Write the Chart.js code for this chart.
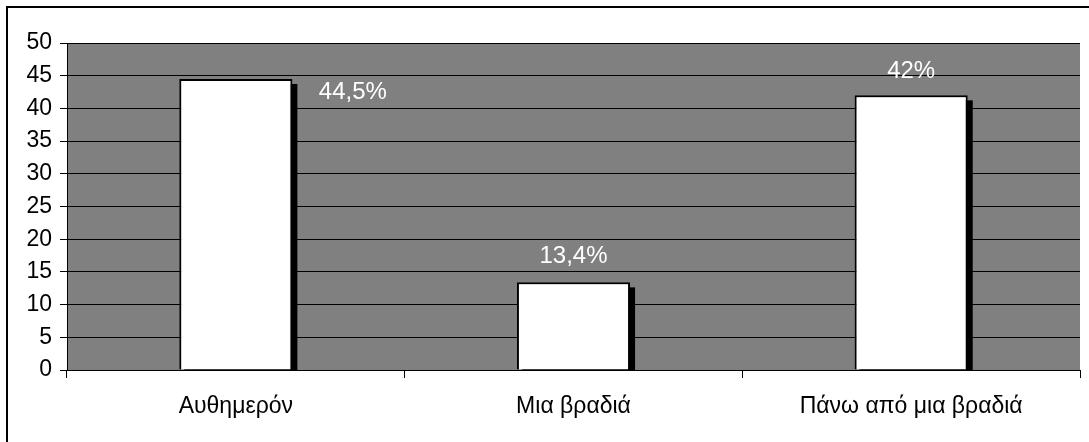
<!DOCTYPE html>
<html lang="el">
<head>
    <meta charset="UTF-8">
    <title>Διαμονή</title>
    <style>
        body {
            margin: 0;
            background: #fff;
            overflow: hidden;
        }
        #frame {
            position: absolute;
            left: 6px;
            top: 6px;
            width: 1100px;
            height: 460px;
            border-left: 2px solid #000;
            border-top: 2px solid #000;
        }
        #chart-container {
            position: absolute;
            left: 0;
            top: 0;
            width: 1089px;
            height: 442px;
        }
    </style>
    <script src="https://cdn.jsdelivr.net/npm/chart.js"></script>
</head>
<body>
    <div id="frame"></div>
    <div id="chart-container">
        <canvas id="stayChart"></canvas>
    </div>

    <script>
        // data
        const categories = ['Αυθημερόν', 'Μια βραδιά', 'Πάνω από μια βραδιά'];
        const values = [44.5, 13.4, 42];
        const valueLabels = ['44,5%', '13,4%', '42%'];
        const yTicks = [0, 5, 10, 15, 20, 25, 30, 35, 40, 45, 50];

        const FONT = 'Arial, "Liberation Sans", sans-serif';

        // gray plot area
        const plotBackground = {
            id: 'plotBackground',
            beforeDraw(chart) {
                const { ctx, chartArea: a } = chart;
                ctx.save();
                ctx.fillStyle = '#808080';
                ctx.fillRect(a.left, a.top, a.right - a.left, a.bottom - a.top);
                ctx.restore();
            }
        };

        // black drop shadow on the right side of each bar
        const barShadow = {
            id: 'barShadow',
            beforeDatasetsDraw(chart) {
                const { ctx, chartArea: a } = chart;
                const off = 5;
                ctx.save();
                ctx.beginPath();
                ctx.rect(a.left, a.top, a.right - a.left, a.bottom - a.top);
                ctx.clip();
                ctx.fillStyle = '#000';
                chart.getDatasetMeta(0).data.forEach(bar => {
                    const left = bar.x - bar.width / 2;
                    ctx.fillRect(left + off, bar.y + off, bar.width, bar.base - bar.y);
                });
                ctx.restore();
            }
        };

        // white value labels placed like the original
        const valueText = {
            id: 'valueText',
            afterDatasetsDraw(chart, args, opts) {
                const { ctx } = chart;
                ctx.save();
                ctx.fillStyle = '#fff';
                ctx.font = opts.font;
                ctx.textAlign = 'center';
                ctx.textBaseline = 'middle';
                chart.getDatasetMeta(0).data.forEach((bar, i) => {
                    const o = opts.offsets[i];
                    ctx.fillText(valueLabels[i], bar.x + o[0], bar.y + o[1]);
                });
                ctx.restore();
            }
        };

        const ctx = document.getElementById('stayChart').getContext('2d');
        const stayChart = new Chart(ctx, {
            type: 'bar',
            data: {
                labels: categories,
                datasets: [{
                    data: values,
                    backgroundColor: '#ffffff',
                    borderColor: '#000000',
                    borderWidth: 2,
                    borderSkipped: 'bottom',
                    barPercentage: 0.335,
                    categoryPercentage: 1
                }]
            },
            options: {
                responsive: true,
                maintainAspectRatio: false,
                animation: false,
                layout: {
                    padding: { left: 0, top: 43, right: 9, bottom: 0 }
                },
                plugins: {
                    legend: { display: false },
                    tooltip: { enabled: false },
                    valueText: {
                        font: '24px ' + FONT,
                        offsets: [[117, 13], [0, -26], [0, -24]]
                    }
                },
                scales: {
                    x: {
                        afterFit(scale) { scale.height = 72; },
                        grid: {
                            offset: true,
                            drawOnChartArea: false,
                            drawTicks: true,
                            tickLength: 8,
                            color: '#000'
                        },
                        border: { display: true, color: '#000', width: 1 },
                        ticks: {
                            color: '#000',
                            padding: 15,
                            font: { family: FONT, size: 23 }
                        }
                    },
                    y: {
                        min: 0,
                        max: 50,
                        afterFit(scale) { scale.width = 67; },
                        afterBuildTicks(scale) {
                            scale.ticks = yTicks.map(v => ({ value: v }));
                        },
                        grid: {
                            color: '#000',
                            lineWidth: 1,
                            drawTicks: true,
                            tickLength: 7
                        },
                        border: { display: true, color: '#000', width: 1 },
                        ticks: {
                            color: '#000',
                            padding: 8,
                            font: { family: FONT, size: 23 }
                        }
                    }
                }
            },
            plugins: [plotBackground, barShadow, valueText]
        });
    </script>
</body>
</html>
